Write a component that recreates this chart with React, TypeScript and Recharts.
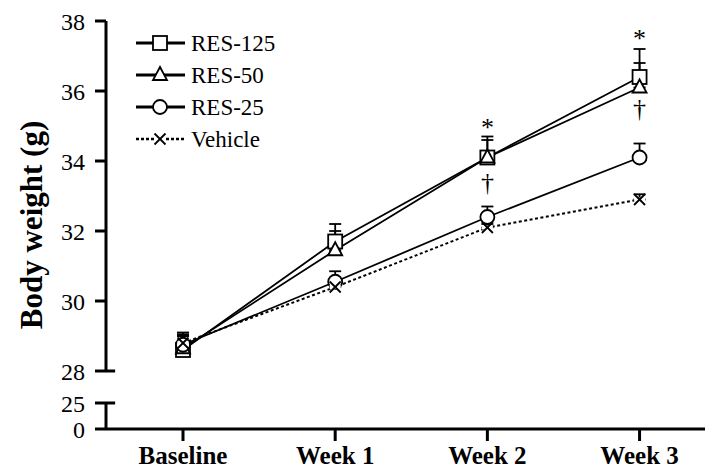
import React from "react";
import {
  ComposedChart,
  Line,
  Scatter,
  XAxis,
  YAxis,
  ErrorBar,
  ReferenceLine,
  Legend,
} from "recharts";

const categories = ["Baseline", "Week 1", "Week 2", "Week 3"];

const res125 = [28.6, 31.7, 34.1, 36.4];
const res125Sem = [0.45, 0.5, 0.6, 0.8];
const res50 = [28.65, 31.45, 34.1, 36.1];
const res50Sem = [0.35, 0.55, 0.5, 0.7];
const res25 = [28.75, 30.55, 32.4, 34.1];
const res25Sem = [0.35, 0.3, 0.3, 0.4];
const vehicle = [28.8, 30.4, 32.1, 32.9];
const vehicleSem = [0.2, 0.15, 0.1, 0.15];

// significance marks (* vs vehicle, † vs RES-25)
const starMarks = [
  { x: 2, y: 35.1 },
  { x: 3, y: 37.65 },
];
const daggerMarks = [
  { x: 2, y: 33.35 },
  { x: 3, y: 35.45 },
];

const yTickLabels = [0, 25, 28, 30, 32, 34, 36, 38];

// broken axis: 0..25 squeezed under the 28..38 range
const AXIS_ZERO = 26.343;
const AXIS_25 = 27.086;
const toPlot = (v: number) =>
  v >= 28 ? v : AXIS_ZERO + (v * (AXIS_25 - AXIS_ZERO)) / 25;

const X_MIN = -0.506;
const X_MAX = 3.43;

const FONT = "'Liberation Serif', 'Times New Roman', serif";

const build = (vals: number[], sem: number[]) =>
  vals.map((v, i) => ({ x: i, y: v, err: [0, sem[i]] }));

type Shape = "square" | "triangle" | "circle" | "cross";

const Marker = ({ cx, cy, shape, size = 7 }: { cx: number; cy: number; shape: Shape; size?: number }) => {
  const s = size;
  if (shape === "square")
    return <rect x={cx - s} y={cy - s} width={2 * s} height={2 * s} fill="#fff" stroke="#000" strokeWidth={1.8} />;
  if (shape === "triangle")
    return (
      <polygon
        points={`${cx},${cy - s - 1} ${cx - s},${cy + s - 2} ${cx + s},${cy + s - 2}`}
        fill="#fff"
        stroke="#000"
        strokeWidth={1.8}
      />
    );
  if (shape === "circle") return <circle cx={cx} cy={cy} r={s} fill="#fff" stroke="#000" strokeWidth={1.8} />;
  const d = s - 1.5;
  return (
    <g>
      <rect x={cx - d} y={cy - 2} width={2 * d} height={4} fill="#fff" />
      <line x1={cx - d} y1={cy - d} x2={cx + d} y2={cy + d} stroke="#000" strokeWidth={1.8} />
      <line x1={cx - d} y1={cy + d} x2={cx + d} y2={cy - d} stroke="#000" strokeWidth={1.8} />
    </g>
  );
};

const series = [
  { name: "RES-125", data: build(res125, res125Sem), shape: "square" as Shape, dash: undefined },
  { name: "RES-50", data: build(res50, res50Sem), shape: "triangle" as Shape, dash: undefined },
  { name: "RES-25", data: build(res25, res25Sem), shape: "circle" as Shape, dash: undefined },
  { name: "Vehicle", data: build(vehicle, vehicleSem), shape: "cross" as Shape, dash: "3 2.5" },
];

const LegendBox = () => (
  <svg width={170} height={135}>
    {series.map((s, i) => {
      const y = 21 + i * 32;
      return (
        <g key={s.name}>
          <line x1={6} y1={y} x2={55} y2={y} stroke="#000" strokeWidth={s.dash ? 2.5 : 3} strokeDasharray={s.dash ? "3 2" : undefined} />
          <Marker cx={30} cy={y} shape={s.shape} />
          <text x={61} y={y} dominantBaseline="central" fontFamily={FONT} fontSize={23} fill="#000">
            {s.name}
          </text>
        </g>
      );
    })}
  </svg>
);

const textMark = (glyph: string, dy: string) => (props: any) => (
  <text
    x={props.cx}
    y={props.cy}
    dy={dy}
    textAnchor="middle"
    fontFamily={FONT}
    fontSize={26}
    fill="#000"
  >
    {glyph}
  </text>
);

export default function App() {
  return (
    <div style={{ position: "absolute", left: 0, top: 0, background: "#fff" }}>
      <ComposedChart width={707} height={470} margin={{ top: 21, right: 2, bottom: 0, left: 0 }}>
        <XAxis
          dataKey="x"
          type="number"
          domain={[X_MIN, X_MAX]}
          ticks={[0, 1, 2, 3]}
          interval={0}
          tickFormatter={(v: number) => categories[v] ?? ""}
          allowDataOverflow
          height={41}
          axisLine={{ stroke: "#000", strokeWidth: 3 }}
          tickLine={{ stroke: "#000", strokeWidth: 3 }}
          tickSize={12}
          tickMargin={5}
          tick={{ fill: "#000", fontSize: 25, fontWeight: "bold", fontFamily: FONT }}
        />
        <YAxis
          type="number"
          domain={[AXIS_ZERO, 38]}
          ticks={yTickLabels.map(toPlot)}
          interval={0}
          tickFormatter={(v: number) => {
            const i = yTickLabels.findIndex((t) => Math.abs(toPlot(t) - v) < 1e-6);
            return i >= 0 ? String(yTickLabels[i]) : "";
          }}
          allowDataOverflow
          width={106}
          axisLine={false}
          tickLine={{ stroke: "#000", strokeWidth: 3 }}
          tickSize={11}
          tickMargin={10}
          tick={{ fill: "#000", fontSize: 24, fontFamily: FONT }}
          label={{
            value: "Body weight (g)",
            angle: -90,
            position: "center",
            dx: -22,
            style: { fill: "#000", fontSize: 31, fontWeight: "bold", fontFamily: FONT },
          }}
        />
        <ReferenceLine
          segment={[{ x: X_MIN, y: 28 }, { x: X_MIN, y: 38 }]}
          stroke="#000"
          strokeWidth={3}
          ifOverflow="visible"
        />
        <ReferenceLine
          segment={[{ x: X_MIN, y: toPlot(0) }, { x: X_MIN, y: toPlot(25) }]}
          stroke="#000"
          strokeWidth={3}
          ifOverflow="visible"
        />
        <ReferenceLine
          segment={[{ x: X_MIN, y: 28 }, { x: X_MIN + 0.06, y: 28 }]}
          stroke="#000"
          strokeWidth={3}
          ifOverflow="visible"
        />
        <ReferenceLine
          segment={[{ x: X_MIN, y: toPlot(25) }, { x: X_MIN + 0.06, y: toPlot(25) }]}
          stroke="#000"
          strokeWidth={3}
          ifOverflow="visible"
        />
        {series.map((s) => (
          <Line
            key={s.name}
            data={s.data}
            dataKey="y"
            name={s.name}
            type="linear"
            stroke="#000"
            strokeWidth={s.dash ? 2 : 1.8}
            strokeDasharray={s.dash}
            isAnimationActive={false}
            dot={(p: any) => <Marker key={`${s.name}-${p.index}`} cx={p.cx} cy={p.cy} shape={s.shape} />}
            activeDot={false}
          >
            <ErrorBar dataKey="err" direction="y" width={6} stroke="#000" strokeWidth={1.8} />
          </Line>
        ))}
        <Scatter data={starMarks} dataKey="y" isAnimationActive={false} shape={textMark("*", "0.53em")} />
        <Scatter data={daggerMarks} dataKey="y" isAnimationActive={false} shape={textMark("\u2020", "0.26em")} />
        <Legend
          layout="vertical"
          align="center"
          verticalAlign="middle"
          wrapperStyle={{ top: 22, left: 130, width: 170 }}
          content={() => <LegendBox />}
        />
      </ComposedChart>
    </div>
  );
}
